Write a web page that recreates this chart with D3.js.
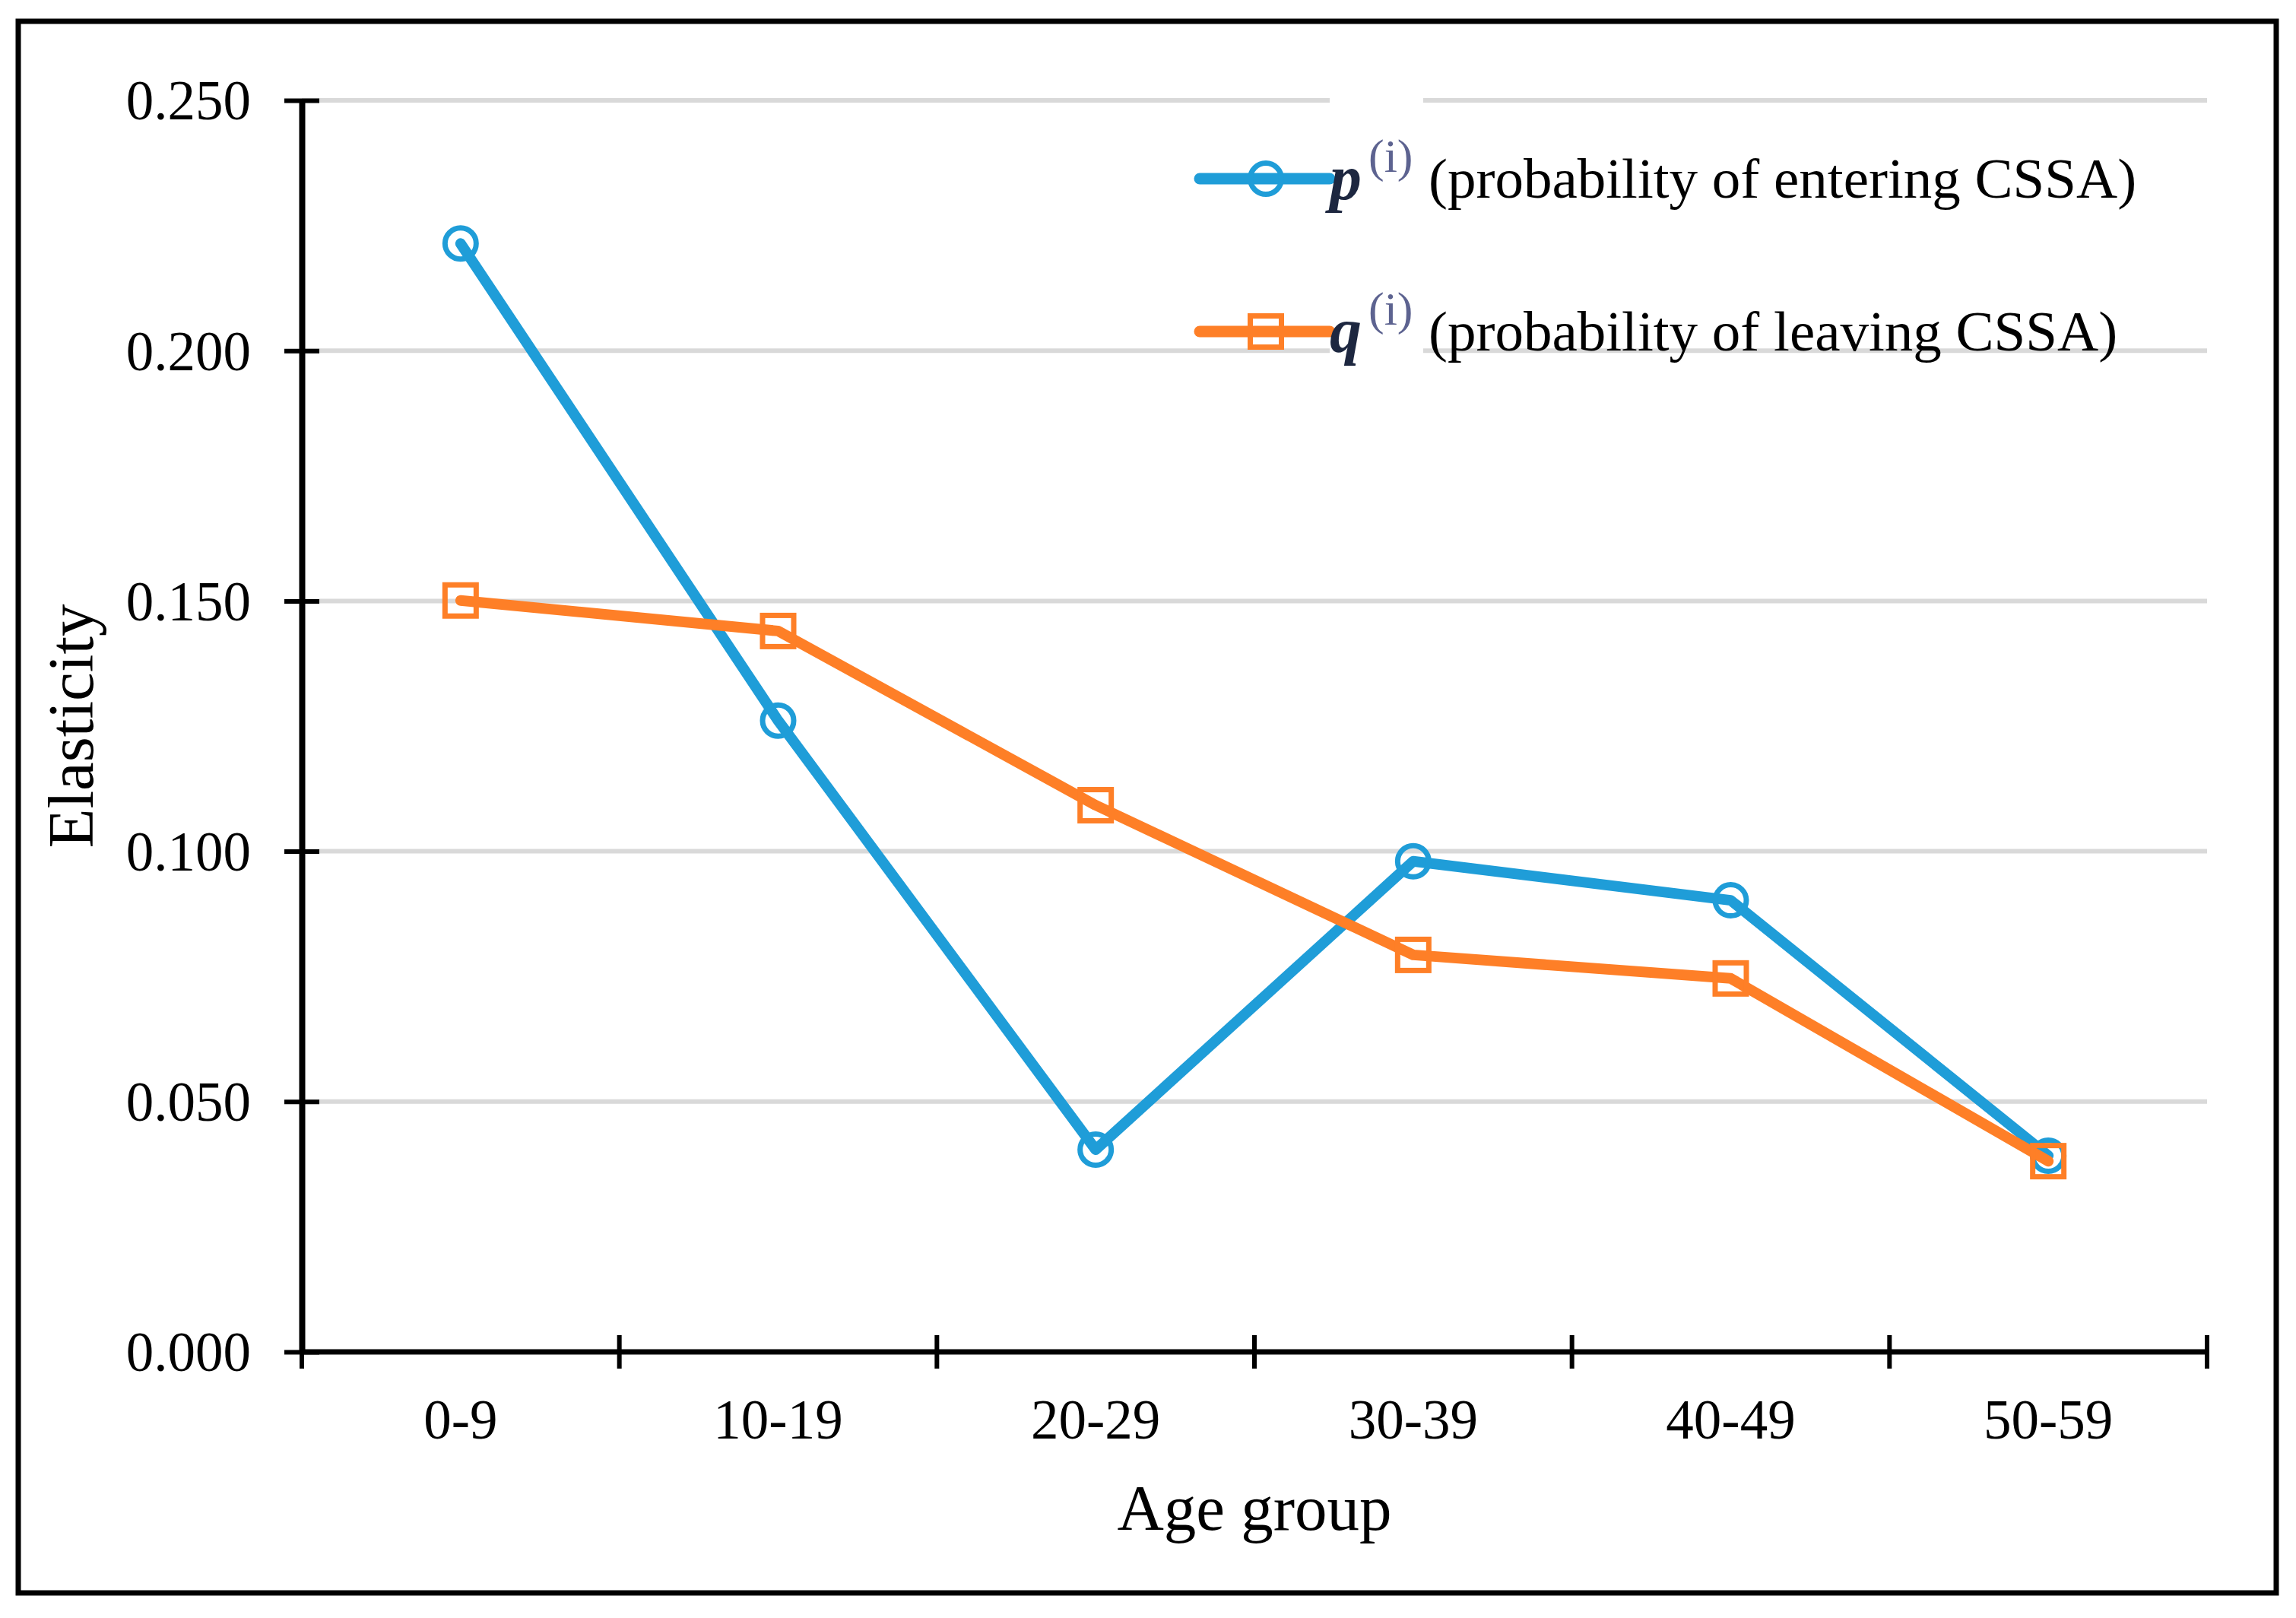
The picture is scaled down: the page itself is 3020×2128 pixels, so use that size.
<!DOCTYPE html>
<html>
<head>
<meta charset="utf-8">
<script src="https://cdn.jsdelivr.net/npm/d3@7"></script>
<style>
    html, body { margin: 0; padding: 0; background: #fff; }
    text { font-family: "Liberation Serif", "Times New Roman", serif; fill: #000; }
</style>
</head>
<body>
<div id="chart"></div>
<script>
'use strict';

// data
var ageGroups = ['0-9', '10-19', '20-29', '30-39', '40-49', '50-59'];
var pValues = [0.2214, 0.1261, 0.0404, 0.0980, 0.0902, 0.0392];
var qValues = [0.1501, 0.1440, 0.1092, 0.0793, 0.0746, 0.0381];
var yTicks = [0, 0.05, 0.10, 0.15, 0.20, 0.25];
var legendNames = ['(probability of entering CSSA)', '(probability of leaving CSSA)'];
var legendSymbols = ['p', 'q'];

var blue = '#1f9dd8';
var orange = '#fe7f27';
var gridColor = '#d9d9d9';

var width = 3020, height = 2128;
var margin = {left: 397, right: 117, top: 132, bottom: 350};
var plotW = width - margin.left - margin.right;
var plotH = height - margin.top - margin.bottom;

var svg = d3.select('#chart')
    .append('svg')
    .attr('width', width)
    .attr('height', height);

svg.append('rect')
    .attr('width', width)
    .attr('height', height)
    .attr('fill', '#fff');

// outer frame
svg.append('rect')
    .attr('x', 24)
    .attr('y', 28)
    .attr('width', 2970)
    .attr('height', 2067)
    .attr('fill', 'none')
    .attr('stroke', '#000')
    .attr('stroke-width', 7);

var g = svg.append('g')
    .attr('transform', 'translate(' + margin.left + ',' + margin.top + ')');

var x = d3.scaleBand()
    .domain(ageGroups)
    .range([0, plotW]);

var y = d3.scaleLinear()
    .domain([0, 0.25])
    .range([plotH, 0]);

// gridlines
g.selectAll('line.grid')
    .data(yTicks.slice(1))
    .enter()
    .append('line')
    .attr('class', 'grid')
    .attr('x1', 0)
    .attr('x2', plotW)
    .attr('y1', function (d) { return y(d); })
    .attr('y2', function (d) { return y(d); })
    .attr('stroke', gridColor)
    .attr('stroke-width', 6);

// y axis
var yAxis = g.append('g')
    .call(d3.axisLeft(y)
        .tickValues(yTicks)
        .tickFormat(d3.format('.3f'))
        .tickSizeInner(23)
        .tickSizeOuter(0)
        .tickPadding(44));

yAxis.select('.domain')
    .attr('stroke-width', 8);
yAxis.selectAll('.tick line')
    .attr('x2', 23)
    .attr('x1', -23)
    .attr('stroke-width', 6);
yAxis.selectAll('.tick text')
    .attr('x', -67)
    .attr('dy', '0.34em')
    .style('font-size', '73px')
    .style('font-family', '"Liberation Serif", serif');

// x axis, ticks sit on the band boundaries
var xBounds = d3.range(ageGroups.length + 1).map(function (i) {
    return i * x.step();
});

var xAxis = g.append('g')
    .attr('transform', 'translate(0,' + plotH + ')');

xAxis.append('line')
    .attr('x1', 0)
    .attr('x2', plotW)
    .attr('stroke', '#000')
    .attr('stroke-width', 7);

xAxis.selectAll('line.tick')
    .data(xBounds)
    .enter()
    .append('line')
    .attr('class', 'tick')
    .attr('x1', function (d) { return d; })
    .attr('x2', function (d) { return d; })
    .attr('y1', -22)
    .attr('y2', 22)
    .attr('stroke', '#000')
    .attr('stroke-width', 6);

xAxis.selectAll('text.tick-label')
    .data(ageGroups)
    .enter()
    .append('text')
    .attr('class', 'tick-label')
    .attr('x', function (d) { return x(d) + x.bandwidth() / 2; })
    .attr('y', 114)
    .attr('text-anchor', 'middle')
    .style('font-size', '73px')
    .text(function (d) { return d; });

// axis titles
svg.append('text')
    .attr('x', margin.left + plotW / 2)
    .attr('y', 2012)
    .attr('text-anchor', 'middle')
    .style('font-size', '85px')
    .text('Age group');

svg.append('text')
    .attr('transform', 'translate(122,955) rotate(-90)')
    .attr('text-anchor', 'middle')
    .style('font-size', '85px')
    .text('Elasticity');

// series
var series = [
    {name: 'p', values: pValues, color: blue, marker: 'circle'},
    {name: 'q', values: qValues, color: orange, marker: 'square'}
];

var line = d3.line()
    .x(function (d, i) { return x(ageGroups[i]) + x.bandwidth() / 2; })
    .y(function (d) { return y(d); });

var drawMarker = function (sel, type, color) {
    if (type === 'circle') {
        sel.append('circle')
            .attr('r', 20.5)
            .attr('fill', 'none')
            .attr('stroke', color)
            .attr('stroke-width', 7);
    } else {
        sel.append('rect')
            .attr('x', -20.5)
            .attr('y', -20.5)
            .attr('width', 41)
            .attr('height', 41)
            .attr('fill', 'none')
            .attr('stroke', color)
            .attr('stroke-width', 7);
    }
};

series.forEach(function (s) {
    var sg = g.append('g').attr('class', 'series-' + s.name);

    sg.append('path')
        .datum(s.values)
        .attr('d', line)
        .attr('fill', 'none')
        .attr('stroke', s.color)
        .attr('stroke-width', 14)
        .attr('stroke-linejoin', 'round')
        .attr('stroke-linecap', 'round');

    var m = sg.selectAll('g.marker')
        .data(s.values)
        .enter()
        .append('g')
        .attr('class', 'marker')
        .attr('transform', function (d, i) {
            return 'translate(' + (x(ageGroups[i]) + x.bandwidth() / 2) + ',' + y(d) + ')';
        });
    drawMarker(m, s.marker, s.color);
});

// legend
var legendY = [235, 436];

series.forEach(function (s, i) {
    var lg = svg.append('g')
        .attr('transform', 'translate(0,' + legendY[i] + ')');

    // white box behind the pasted math symbol (it cuts the gridline)
    lg.append('rect')
        .attr('x', 1749)
        .attr('y', i === 0 ? -112 : -90)
        .attr('width', 123)
        .attr('height', i === 0 ? 170 : 150)
        .attr('fill', '#fff');

    lg.append('line')
        .attr('x1', 1578)
        .attr('x2', 1749)
        .attr('stroke', s.color)
        .attr('stroke-width', 15)
        .attr('stroke-linecap', 'round');

    var mk = lg.append('g').attr('transform', 'translate(1665,0)');
    drawMarker(mk, s.marker, s.color);

    lg.append('text')
        .attr('x', 1749)
        .attr('y', 27)
        .style('font-size', '84px')
        .style('font-weight', 'bold')
        .style('font-style', 'italic')
        .style('fill', '#1d2740')
        .text(legendSymbols[i]);

    lg.append('text')
        .attr('x', 1800)
        .attr('y', -9)
        .style('font-size', '62px')
        .style('fill', '#5d6390')
        .text('(i)');

    lg.append('text')
        .attr('x', 1879)
        .attr('y', 25)
        .style('font-size', '75px')
        .text(legendNames[i]);
});
</script>
</body>
</html>
